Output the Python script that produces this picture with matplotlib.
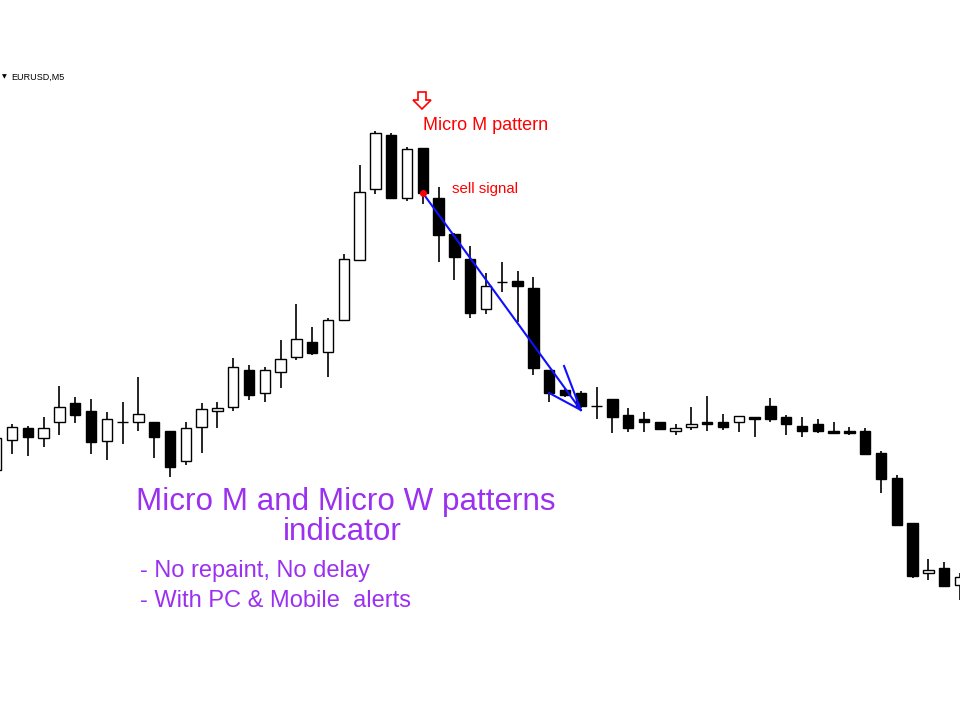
import numpy as np
import matplotlib
matplotlib.use('Agg')
import matplotlib.pyplot as plt
from matplotlib.patches import Rectangle, Polygon

plt.rcParams['font.family'] = ['Liberation Sans', 'DejaVu Sans']

# EURUSD M5 candles, prices in points (1e-5)
opens = [109930, 109960, 109972, 109962, 109978, 109997, 109989, 109959, 109978, 109978,
         109978, 109969, 109939, 109973, 109989, 109993, 110030, 110007, 110028, 110043,
         110058, 110048, 110080, 110140, 110211, 110265, 110202, 110252, 110202, 110166,
         110141, 110091, 110118, 110119, 110112, 110030, 110010, 110007, 109994, 110001,
         109985, 109981, 109978, 109969, 109973, 109978, 109978, 109978, 109983, 109994,
         109983, 109974, 109976, 109969, 109969, 109969, 109947, 109922, 109877, 109827,
         109832, 109815]
highs = [109968, 109976, 109974, 109983, 110014, 110003, 110001, 109988, 109998, 110023,
         109978, 109969, 109978, 109997, 109998, 110042, 110035, 110033, 110060, 110096,
         110073, 110082, 110146, 110235, 110269, 110267, 110253, 110252, 110213, 110167,
         110154, 110127, 110138, 110129, 110123, 110030, 110012, 110009, 110013, 110001,
         109992, 109988, 109978, 109976, 109993, 110004, 109986, 109984, 109983, 110002,
         109985, 109983, 109981, 109978, 109973, 109972, 109949, 109925, 109877, 109841,
         109838, 109827]
lows = [109928, 109946, 109944, 109953, 109965, 109977, 109946, 109940, 109956, 109969,
        109942, 109923, 109935, 109947, 109972, 109989, 110000, 109998, 110012, 110040,
        110045, 110023, 110079, 110140, 110206, 110202, 110199, 110196, 110138, 110120,
        110082, 110086, 110108, 110078, 110025, 109998, 110003, 109992, 109981, 109967,
        109968, 109968, 109970, 109965, 109970, 109969, 109970, 109968, 109963, 109978,
        109965, 109963, 109967, 109967, 109965, 109946, 109907, 109874, 109822, 109820,
        109814, 109800]
closes = [109962, 109973, 109963, 109972, 109993, 109985, 109958, 109981, 109978, 109986,
          109963, 109933, 109972, 109991, 109992, 110033, 110005, 110030, 110041, 110061,
          110047, 110080, 110141, 110208, 110267, 110202, 110251, 110207, 110165, 110143,
          110087, 110114, 110118, 110114, 110032, 110007, 110005, 109994, 109994, 109983,
          109972, 109978, 109971, 109972, 109976, 109976, 109973, 109984, 109981, 109981,
          109976, 109969, 109969, 109967, 109967, 109946, 109921, 109875, 109824, 109830,
          109814, 109823]

opens = np.array(opens) / 1e5
highs = np.array(highs) / 1e5
lows = np.array(lows) / 1e5
closes = np.array(closes) / 1e5

signal_bar = 27   # sell signal candle
target_bar = 37

fig = plt.figure(figsize=(9.6, 7.2), dpi=100)
ax = fig.add_axes([0, 0, 1, 1])
ax.set_xlim(0.24, 61.0)
ax.set_ylim(1.0968, 1.1040)
ax.axis('off')

w = 0.66
for i in range(len(opens)):
    o, h, l, c = opens[i], highs[i], lows[i], closes[i]
    ax.vlines(i, l, h, color='black', lw=1.2, zorder=1)
    bottom = min(o, c)
    height = abs(c - o)
    face = 'white' if c >= o else 'black'
    ax.add_patch(Rectangle((i - w / 2, bottom), w, height, facecolor=face,
                           edgecolor='black', lw=1.0, zorder=2))

# blue arrow from sell signal to target
x0, y0 = signal_bar, closes[signal_bar]
x1, y1 = target_bar, 1.09990
ax.plot([x0, x1], [y0, y1], color='#1010ff', lw=1.5, zorder=3)
ax.plot([35.0, x1], [1.10007, y1], color='#1010ff', lw=1.5, zorder=3)
ax.plot([35.94, x1], [1.10034, y1], color='#1010ff', lw=1.5, zorder=3)
ax.plot([x0], [y0], 'o', color='red', ms=4, zorder=4)

# header
fig.text(2 / 960, 1 - 77 / 720, '\u25bc', fontsize=4.5, color='black', va='center',
         family=['DejaVu Sans'])
fig.text(11 / 960, 1 - 77 / 720, 'EURUSD,M5', fontsize=6.5, color='black', va='center')

# hollow red down arrow above the pattern (pixel outline)
arrow_px = [(418, 92), (426, 92), (426, 100), (431, 100), (422, 109),
            (413, 100), (418, 100)]
arrow_fig = [(x / 960, 1 - y / 720) for x, y in arrow_px]
fig.patches.append(Polygon(arrow_fig, closed=True, facecolor='white', edgecolor='red',
                           lw=1.2, transform=fig.transFigure))

fig.text(423 / 960, 1 - 130 / 720, 'Micro M pattern', fontsize=13, color='red',
         va='baseline')
fig.text(452 / 960, 1 - 193 / 720, 'sell signal', fontsize=10.8, color='red',
         va='baseline')

purple = '#9b30f0'
fig.text(346 / 960, 1 - 510 / 720, 'Micro M and Micro W patterns', fontsize=22.6,
         color=purple, ha='center', va='baseline')
fig.text(342 / 960, 1 - 540 / 720, 'indicator', fontsize=22.6, color=purple,
         ha='center', va='baseline')
fig.text(140 / 960, 1 - 577 / 720, '- No repaint, No delay', fontsize=17,
         color=purple, va='baseline')
fig.text(140 / 960, 1 - 607 / 720, '- With PC & Mobile  alerts', fontsize=17,
         color=purple, va='baseline')

fig.savefig('out.png', dpi=100, facecolor='white')
